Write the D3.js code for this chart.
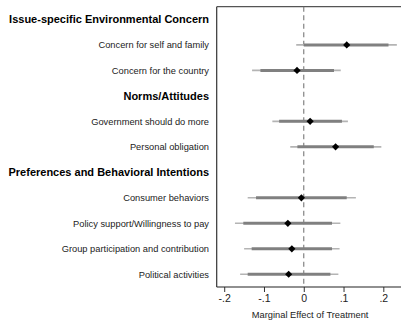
<!DOCTYPE html>
<html>
<head>
<meta charset="utf-8">
<script src="https://cdn.jsdelivr.net/npm/d3@7"></script>
<style>
  html, body { margin: 0; padding: 0; background: #fff; }
  svg { display: block; font-family: "Liberation Sans", Arial, Helvetica, sans-serif; }
</style>
</head>
<body>
<svg id="chart" width="401" height="324"></svg>
<script>
// Rows, top to bottom; section headers carry no estimates
const rows = [
  "Issue-specific Environmental Concern",
  "Concern for self and family",
  "Concern for the country",
  "Norms/Attitudes",
  "Government should do more",
  "Personal obligation",
  "Preferences and Behavioral Intentions",
  "Consumer behaviors",
  "Policy support/Willingness to pay",
  "Group participation and contribution",
  "Political activities"
];
const isHeader = [true, false, false, true, false, false, true, false, false, false, false];

// Point estimates and confidence bounds (90% thick, 95% thin)
const estimate = [null, 0.108, -0.017, null, 0.016, 0.080, null, -0.006, -0.040, -0.030, -0.038];
const lo90 =     [null, 0.000, -0.109, null, -0.062, -0.016, null, -0.120, -0.152, -0.131, -0.141];
const hi90 =     [null, 0.213, 0.076, null, 0.096, 0.176, null, 0.108, 0.071, 0.071, 0.067];
const lo95 =     [null, -0.019, -0.130, null, -0.079, -0.034, null, -0.141, -0.173, -0.150, -0.160];
const hi95 =     [null, 0.234, 0.093, null, 0.111, 0.195, null, 0.131, 0.092, 0.090, 0.087];

const tickValues = [-0.2, -0.1, 0, 0.1, 0.2];
const tickLabels = ["-.2", "-.1", "0", ".1", ".2"];
const axisTitle = "Marginal Effect of Treatment";

const svg = d3.select("#chart");
const plot = { left: 216.7, top: 6.7, right: 405, bottom: 287 };

const x = d3.scaleLinear()
  .domain([-0.2189, 0.2545])
  .range([plot.left, plot.right]);

const y = d3.scalePoint()
  .domain(d3.range(rows.length))
  .range([plot.top, plot.bottom])
  .padding(0.5);

// frame: top border and left edge
svg.append("line")
  .attr("x1", plot.left).attr("x2", plot.right)
  .attr("y1", plot.top).attr("y2", plot.top)
  .attr("stroke", "#555").attr("stroke-width", 1.2);
svg.append("line")
  .attr("x1", plot.left).attr("x2", plot.left)
  .attr("y1", plot.top).attr("y2", plot.bottom)
  .attr("stroke", "#333").attr("stroke-width", 1.2);

// reference line at zero
svg.append("line")
  .attr("x1", x(0)).attr("x2", x(0))
  .attr("y1", plot.top).attr("y2", plot.bottom)
  .attr("stroke", "#777").attr("stroke-width", 1.1)
  .attr("stroke-dasharray", "5,3.5");

// bottom axis
const xAxis = d3.axisBottom(x)
  .tickValues(tickValues)
  .tickSize(5)
  .tickPadding(3)
  .tickFormat((d, i) => tickLabels[i]);

const gx = svg.append("g")
  .attr("transform", `translate(0,${plot.bottom})`)
  .call(xAxis);
gx.select(".domain").remove();
gx.append("line")
  .attr("x1", plot.left).attr("x2", plot.right)
  .attr("stroke", "#222").attr("stroke-width", 1.2);
gx.selectAll(".tick line").attr("stroke", "#333").attr("stroke-width", 1);
gx.selectAll(".tick text")
  .attr("fill", "#222")
  .style("font-size", "10.5px")
  .style("font-family", "'Liberation Sans', Arial, sans-serif");

svg.append("text")
  .attr("x", x(0.016))
  .attr("y", 318)
  .attr("text-anchor", "middle")
  .attr("fill", "#222")
  .style("font-size", "9.3px")
  .text(axisTitle);

// row labels and headers
svg.append("g").selectAll("text")
  .data(rows)
  .join("text")
  .attr("x", 209)
  .attr("y", (d, i) => y(i))
  .attr("dy", "0.35em")
  .attr("text-anchor", "end")
  .attr("fill", (d, i) => isHeader[i] ? "#000" : "#222")
  .style("font-size", (d, i) => isHeader[i] ? "11px" : "9.3px")
  .style("font-weight", (d, i) => isHeader[i] ? "bold" : "normal")
  .text(d => d);

const items = d3.range(rows.length).filter(i => !isHeader[i]);

// 95% intervals (thin, light)
svg.append("g").selectAll("line")
  .data(items)
  .join("line")
  .attr("x1", i => x(lo95[i])).attr("x2", i => x(hi95[i]))
  .attr("y1", i => y(i)).attr("y2", i => y(i))
  .attr("stroke", "#b4b4b4").attr("stroke-width", 1.6);

// 90% intervals (thick, darker)
svg.append("g").selectAll("line")
  .data(items)
  .join("line")
  .attr("x1", i => x(lo90[i])).attr("x2", i => x(hi90[i]))
  .attr("y1", i => y(i)).attr("y2", i => y(i))
  .attr("stroke", "#808080").attr("stroke-width", 3);

// point estimates
svg.append("g").selectAll("path")
  .data(items)
  .join("path")
  .attr("d", d3.symbol(d3.symbolSquare, 26))
  .attr("transform", i => `translate(${x(estimate[i])},${y(i)}) rotate(45)`)
  .attr("fill", "#000");
</script>
</body>
</html>
